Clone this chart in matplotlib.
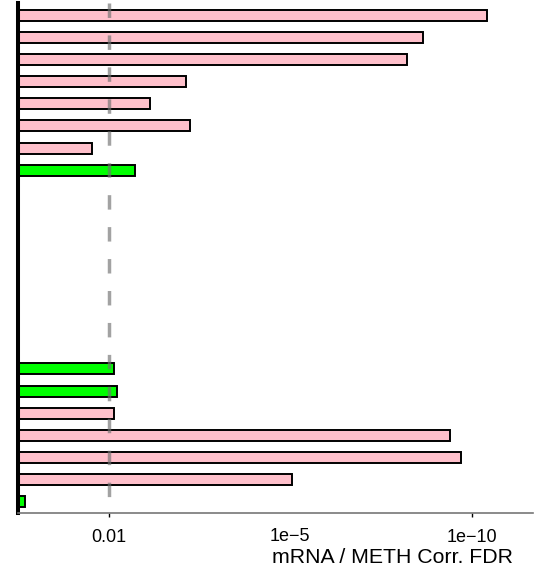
import matplotlib
matplotlib.use("Agg")
import matplotlib.pyplot as plt
import numpy as np

plt.rcParams["font.family"] = ["Liberation Sans", "DejaVu Sans"]
plt.rcParams["lines.scale_dashes"] = False

# -log10(FDR) per row, top to bottom; NaN = empty row
neglog_fdr = [10.55, 8.40, 7.92, 3.10, 2.56, 3.16, 1.79, 2.35,
              np.nan, np.nan, np.nan, np.nan, np.nan, np.nan, np.nan, np.nan,
              2.07, 2.10, 2.07, 9.26, 9.61, 5.03, 1.06]
bar_colors = ["pink"] * 7 + ["#00FF00"] + ["white"] * 8 + \
             ["#00FF00", "#00FF00", "pink", "pink", "pink", "pink", "#00FF00"]
tick_vals = [2, 5, 10]
tick_labels = ["0.01", "1e\u22125", "1e\u221210"]
threshold = 2  # FDR 0.01
x_min, x_max = 0.986, 12.35


def fwd(v):
    return np.log(np.asarray(v, dtype=float) + 2.5)


def inv(u):
    return np.exp(u) - 2.5


fig = plt.figure(figsize=(5.6, 5.77), dpi=100)
ax = fig.add_axes([18 / 560, 64 / 577, 515 / 560, 510 / 577])
ax.set_xscale("function", functions=(fwd, inv))

rows = np.arange(len(neglog_fdr))
vals = np.array(neglog_fdr)
ok = ~np.isnan(vals)
ax.barh(rows[ok], vals[ok] - x_min, left=x_min, height=0.5,
        color=[c for c, k in zip(bar_colors, ok) if k],
        edgecolor="black", linewidth=1.4, zorder=2)

ax.axvline(threshold, ymin=1, ymax=0, color="#707070", alpha=0.65,
           linewidth=2.5, dashes=(10.4, 12.6), solid_capstyle="butt",
           dash_capstyle="butt", zorder=3)

ax.set_xlim(x_min, x_max)
ax.set_ylim(22.52, -0.566)

ax.set_xticks([tick_vals[0], tick_vals[2]], [tick_labels[0], tick_labels[2]])
ax.set_xticks([tick_vals[1]], [tick_labels[1]], minor=True)
ax.tick_params(axis="x", which="major", length=3, width=1, labelsize=13, pad=8.5)
ax.tick_params(axis="x", which="minor", length=0, labelsize=13, pad=11)
ax.set_yticks([])

for s in ("top", "right"):
    ax.spines[s].set_visible(False)
ax.spines["left"].set_linewidth(2.9)
ax.spines["left"].set_color("black")
ax.spines["bottom"].set_linewidth(1.2)
ax.spines["bottom"].set_color("#777777")

fig.text(392.5 / 560, 1 - 557.5 / 577, "mRNA / METH Corr. FDR",
         ha="center", va="center", fontsize=15.3)

fig.savefig("out.png", dpi=100)
